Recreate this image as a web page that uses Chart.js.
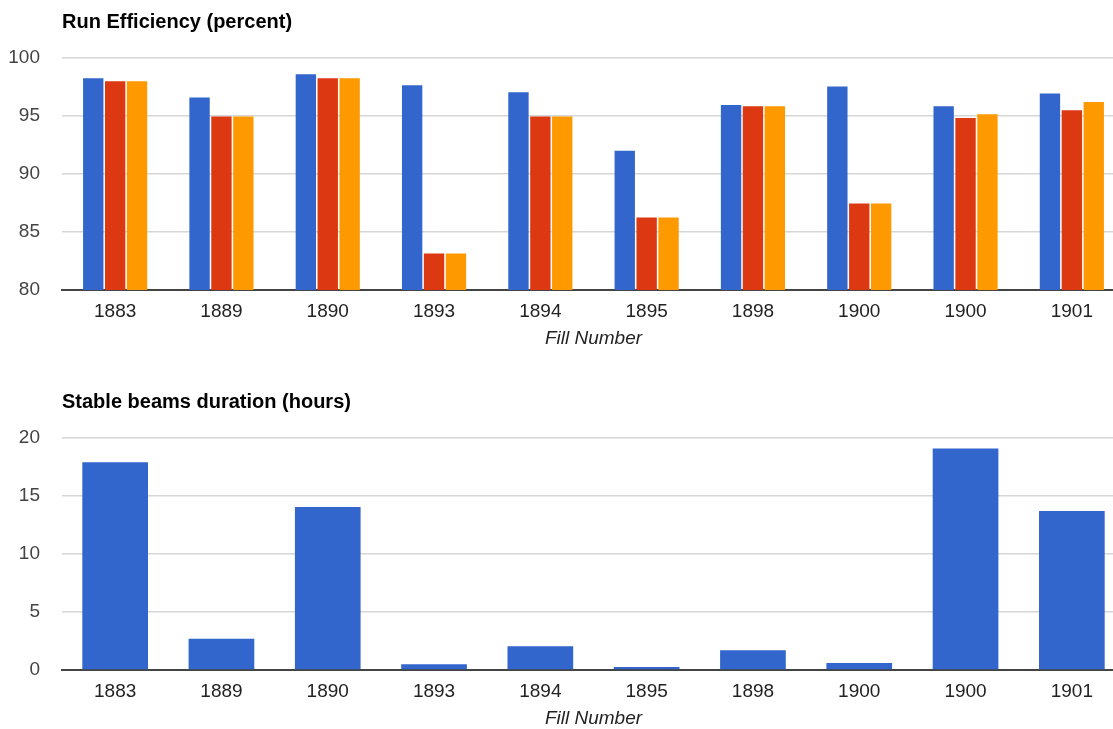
<!DOCTYPE html>
<html>
<head>
<meta charset="utf-8">
<script src="https://cdn.jsdelivr.net/npm/chart.js@4"></script>
<style>
  html, body { margin: 0; padding: 0; background: #fff; overflow: hidden; width: 1113px; height: 729px; }
  .box { position: absolute; left: 0; width: 1125px; height: 380px; }
  #b1 { top: 0; }
  #b2 { top: 380px; }
</style>
</head>
<body>
<div class="box" id="b1"><canvas id="c1"></canvas></div>
<div class="box" id="b2"><canvas id="c2"></canvas></div>
<script>
const fillNumbers = ['1883', '1889', '1890', '1893', '1894', '1895', '1898', '1900', '1900', '1901'];
const efficiencyA = [98.25, 96.6, 98.6, 97.65, 97.05, 92.0, 95.95, 97.55, 95.85, 96.95];
const efficiencyB = [98.0, 94.95, 98.25, 83.15, 94.95, 86.25, 95.85, 87.45, 94.82, 95.5];
const efficiencyC = [98.0, 94.95, 98.25, 83.15, 94.95, 86.25, 95.85, 87.45, 95.15, 96.2];
const durationHours = [17.9, 2.7, 14.05, 0.5, 2.05, 0.25, 1.7, 0.6, 19.1, 13.7];
const effTicks = [80, 85, 90, 95, 100];
const durTicks = [0, 5, 10, 15, 20];

const FONT = "'Liberation Sans', Arial, sans-serif";

function makeOptions(title, ticks) {
  const min = ticks[0], max = ticks[ticks.length - 1];
  return {
    responsive: true,
    maintainAspectRatio: false,
    animation: false,
    layout: { padding: { left: 0, right: 0, top: 0, bottom: 0 } },
    plugins: {
      legend: { display: false },
      tooltip: { enabled: false },
      title: {
        display: true,
        text: title,
        align: 'start',
        fullSize: false,
        color: '#000',
        font: { family: FONT, size: 20, weight: 'bold', lineHeight: 1.2 },
        padding: { top: 10, bottom: 24 }
      }
    },
    scales: {
      x: {
        afterFit: (s) => { s.height = 90; },
        grid: { display: false, drawTicks: false },
        border: { display: true, color: '#444', width: 2 },
        ticks: { color: '#222', font: { family: FONT, size: 19 }, padding: 10.5, maxRotation: 0, autoSkip: false },
        title: {
          display: true,
          text: 'Fill Number',
          color: '#222',
          font: { family: FONT, size: 19, style: 'italic', lineHeight: 1.2 },
          padding: { top: 0, bottom: 29.6 }
        }
      },
      y: {
        min: min, max: max,
        afterFit: (s) => { s.width = 62; },
        afterBuildTicks: (s) => { s.ticks = ticks.map(v => ({ value: v })); },
        grid: {
          drawTicks: false,
          color: (ctx) => (ctx.tick && ctx.tick.value === min) ? 'rgba(0,0,0,0)' : '#d6d6d6',
          lineWidth: 1.5
        },
        border: { display: false },
        ticks: { color: '#444', font: { family: FONT, size: 19 }, padding: 22 }
      }
    }
  };
}

new Chart(document.getElementById('c1'), {
  type: 'bar',
  data: {
    labels: fillNumbers,
    datasets: [
      { label: 'Efficiency 1', data: efficiencyA, backgroundColor: '#3366cc', categoryPercentage: 0.618, barPercentage: 0.93 },
      { label: 'Efficiency 2', data: efficiencyB, backgroundColor: '#dc3912', categoryPercentage: 0.618, barPercentage: 0.93 },
      { label: 'Efficiency 3', data: efficiencyC, backgroundColor: '#ff9900', categoryPercentage: 0.618, barPercentage: 0.93 }
    ]
  },
  options: makeOptions('Run Efficiency (percent)', effTicks)
});

new Chart(document.getElementById('c2'), {
  type: 'bar',
  data: {
    labels: fillNumbers,
    datasets: [
      { label: 'Stable beams duration', data: durationHours, backgroundColor: '#3366cc', categoryPercentage: 0.618, barPercentage: 1.0 }
    ]
  },
  options: makeOptions('Stable beams duration (hours)', durTicks)
});
</script>
</body>
</html>
